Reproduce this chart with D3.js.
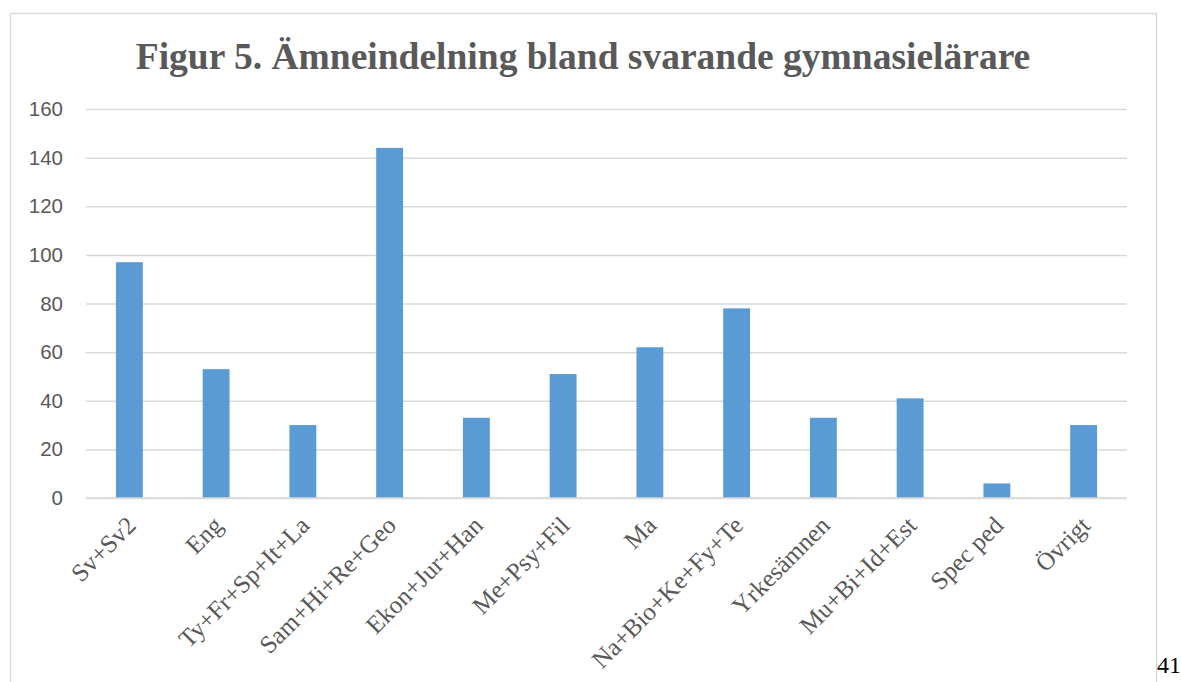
<!DOCTYPE html>
<html><head><meta charset="utf-8">
<script src="https://cdn.jsdelivr.net/npm/d3@7"></script>
<style>body{margin:0;background:#fff}svg{display:block}</style>
</head><body>
<svg id="c" width="1181" height="682"></svg>
<script>
const categories = ["Sv+Sv2","Eng","Ty+Fr+Sp+It+La","Sam+Hi+Re+Geo","Ekon+Jur+Han","Me+Psy+Fil","Ma","Na+Bio+Ke+Fy+Te","Yrkesämnen","Mu+Bi+Id+Est","Spec ped","Övrigt"];
const values = [97,53,30,144,33,51,62,78,33,41,6,30];
const yTicks = [0,20,40,60,80,100,120,140,160];
const title = "Figur 5. Ämneindelning bland svarande gymnasielärare";
const pageNumber = "41";

(function(){
const svg = d3.select("#c");
const pl = 86, pr = 1127, pt = 109, pb = 498;
const x = d3.scaleBand().domain(categories).range([pl, pr]).paddingInner(0.69).paddingOuter(0.345);
const y = d3.scaleLinear().domain([0,160]).range([pb, pt]);

// chart border
svg.append("rect").attr("x",10.5).attr("y",13.5).attr("width",1146).attr("height",700)
  .attr("fill","none").attr("stroke","#d9d9d9").attr("stroke-width",1.5);

// title
svg.append("text").attr("x",583).attr("y",69).attr("text-anchor","middle")
  .attr("font-family","Liberation Serif").attr("font-weight","bold").attr("font-size",37.5)
  .attr("fill","#595959").text(title);

// gridlines
const yAxis = d3.axisLeft(y).tickValues(yTicks).tickSize(-(pr-pl)).tickPadding(23);
const gy = svg.append("g").attr("transform",`translate(${pl},0)`).call(yAxis);
gy.select(".domain").remove();
gy.selectAll(".tick line").attr("stroke","#d9d9d9").attr("stroke-width",1.5);
gy.selectAll(".tick text").attr("font-family","Liberation Sans").attr("font-size",20.5).attr("fill","#595959");

// bars
svg.append("g").selectAll("rect").data(categories).join("rect")
  .attr("x",d=>x(d)).attr("width",x.bandwidth())
  .attr("y",(d,i)=>y(values[i])).attr("height",(d,i)=>y(0)-y(values[i]))
  .attr("fill","#5b9bd5");

// baseline
svg.append("line").attr("x1",pl).attr("x2",pr).attr("y1",pb).attr("y2",pb)
  .attr("stroke","#d9d9d9").attr("stroke-width",1.5);

// x labels
const xAxis = d3.axisBottom(x).tickSize(0).tickPadding(0);
const gx = svg.append("g").attr("transform",`translate(0,${pb})`).call(xAxis);
gx.select(".domain").remove();
gx.selectAll(".tick text")
  .attr("font-family","Liberation Serif").attr("font-size",25).attr("fill","#595959")
  .attr("text-anchor","end").attr("dy",null).attr("y",null)
  .attr("transform","translate(8,29) rotate(-45)");

// page number
svg.append("text").attr("x",1157).attr("y",673).attr("font-family","Liberation Serif")
  .attr("font-size",24).attr("fill","#000").text(pageNumber);
})();
</script>
</body></html>
